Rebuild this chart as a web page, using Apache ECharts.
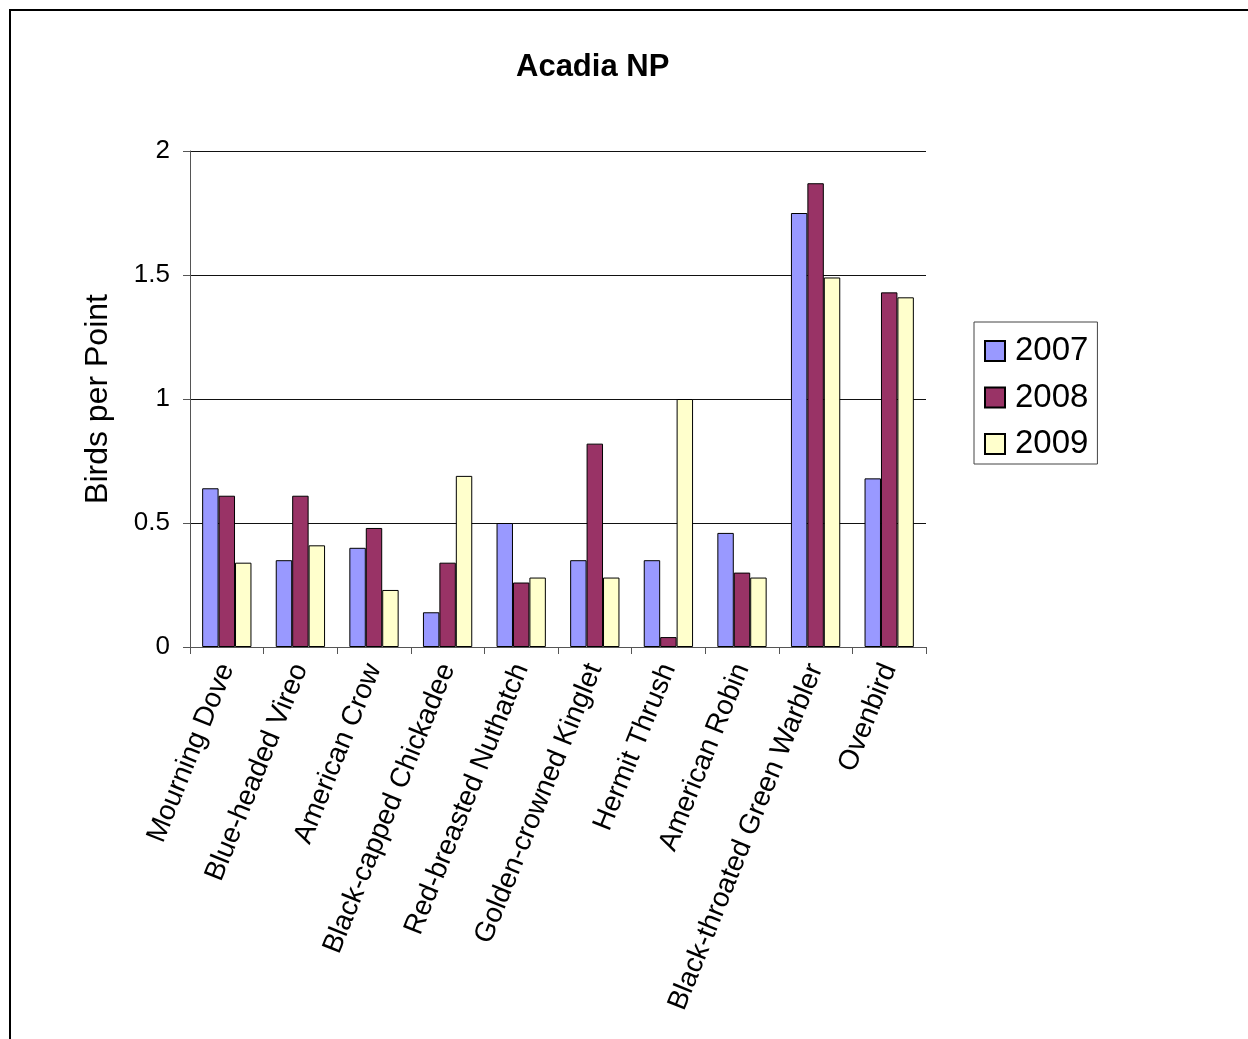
<!DOCTYPE html>
<html>
<head>
<meta charset="utf-8">
<script src="https://cdn.jsdelivr.net/npm/echarts@6/dist/echarts.min.js"></script>
<style>
html,body{margin:0;padding:0;background:#fff;}
#chart{width:1248px;height:1039px;}
</style>
</head>
<body>
<div id="chart"></div>
<script>
const categories = ["Mourning Dove","Blue-headed Vireo","American Crow","Black-capped Chickadee","Red-breasted Nuthatch","Golden-crowned Kinglet","Hermit Thrush","American Robin","Black-throated Green Warbler","Ovenbird"];
const values2007 = [0.64,0.35,0.40,0.14,0.50,0.35,0.35,0.46,1.75,0.68];
const values2008 = [0.61,0.61,0.48,0.34,0.26,0.82,0.04,0.30,1.87,1.43];
const values2009 = [0.34,0.41,0.23,0.69,0.28,0.28,1.00,0.28,1.49,1.41];
const seriesNames = ["2007","2008","2009"];
const seriesColors = ["#9999FF","#993366","#FFFFCC"];
const yTicks = [0,0.5,1,1.5,2];

const font = "Liberation Sans, Arial, sans-serif";
const chart = echarts.init(document.getElementById('chart'));
const data = [values2007, values2008, values2009];

chart.setOption({
  backgroundColor: '#fff',
  animation: false,
  title: {
    text: 'Acadia NP',
    left: 511, top: 47,
    textStyle: {fontFamily: font, fontSize: 31, fontWeight: 'bold', color: '#000'}
  },
  graphic: [{
    type: 'polyline',
    shape: {points: [[10,1039],[10,10],[1248,10]]},
    style: {stroke: '#000', lineWidth: 2, fill: null}
  }],
  legend: {
    orient: 'vertical',
    left: 974, top: 322,
    padding: [12, 9, 3, 10],
    backgroundColor: '#fff',
    borderColor: '#444', borderWidth: 1, borderRadius: 0,
    itemWidth: 20, itemHeight: 20, itemGap: 12.5,
    icon: 'rect',
    textStyle: {fontFamily: font, fontSize: 33, color: '#000', lineHeight: 34, padding: [0, 0, 0, 5]},
    data: seriesNames
  },
  grid: {left: 190, right: 322, top: 151, bottom: 392, containLabel: false},
  xAxis: {
    type: 'category',
    data: categories,
    axisLine: {lineStyle: {color: '#555', width: 1}},
    axisTick: {show: true, length: 7, alignWithLabel: false, lineStyle: {color: '#555'}},
    axisLabel: {rotate: 68, margin: 18, interval: 0, fontFamily: font, fontSize: 28, color: '#000'}
  },
  yAxis: {
    type: 'value',
    min: 0, max: 2, interval: 0.5,
    name: 'Birds per Point',
    nameLocation: 'middle',
    nameGap: 76,
    nameTextStyle: {fontFamily: font, fontSize: 32, color: '#000'},
    axisLine: {show: true, lineStyle: {color: '#555'}},
    axisTick: {show: true, length: 7, lineStyle: {color: '#555'}},
    axisLabel: {margin: 20, fontFamily: font, fontSize: 26, color: '#000',
      formatter: v => yTicks.includes(v) ? String(v) : ''},
    splitLine: {show: true, lineStyle: {color: '#111', width: 1}}
  },
  series: seriesNames.map((n, i) => ({
    name: n,
    type: 'bar',
    data: data[i],
    barGap: '0%',
    barCategoryGap: '33%',
    itemStyle: {color: seriesColors[i], borderColor: '#000', borderWidth: 1}
  }))
});
</script>
</body>
</html>
